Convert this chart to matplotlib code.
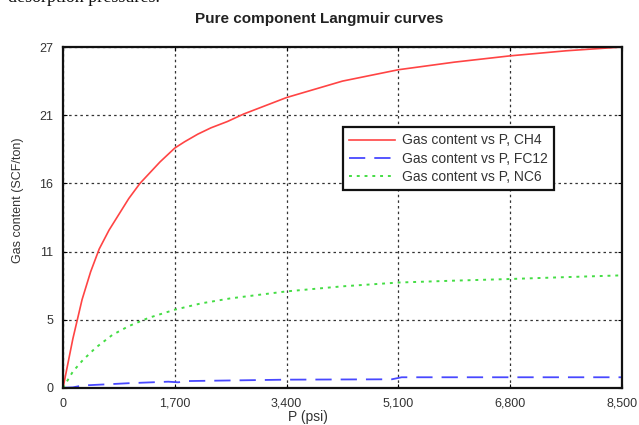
import matplotlib
matplotlib.use("Agg")
import matplotlib.pyplot as plt

# ---- data ----
p_ch4 = [0, 150, 290, 420, 550, 700, 820, 1000, 1170, 1475, 1700, 1850, 2050,
         2250, 2500, 2750, 3000, 3400, 4250, 5100, 5950, 6800, 7650, 8500]
v_ch4 = [0, 3.9, 7.0, 9.2, 11.0, 12.5, 13.5, 15.0, 16.2, 17.9, 19.0, 19.5, 20.1,
         20.6, 21.1, 21.7, 22.2, 23.0, 24.3, 25.2, 25.8, 26.3, 26.7, 27.0]

p_fc12 = [0, 150, 300, 700, 1000, 1600, 1750, 1900, 3400, 5000, 5150, 8500]
v_fc12 = [0.02, 0.05, 0.2, 0.3, 0.38, 0.5, 0.45, 0.55, 0.66, 0.69, 0.85, 0.85]

p_nc6 = [0, 150, 300, 500, 750, 1000, 1300, 1700, 2100, 2550, 3400, 4250,
         5100, 5950, 6800, 7650, 8500]
v_nc6 = [0, 1.3, 2.2, 3.2, 4.2, 4.9, 5.55, 6.2, 6.7, 7.1, 7.65, 8.05,
         8.35, 8.5, 8.63, 8.78, 8.92]

labels = ["Gas content vs P, CH4", "Gas content vs P, FC12", "Gas content vs P, NC6"]
x_ticks = [0, 1700, 3400, 5100, 6800, 8500]
x_ticklabels = ["0", "1,700", "3,400", "5,100", "6,800", "8,500"]
y_ticks = [0, 5.4, 10.8, 16.2, 21.6, 27]
y_ticklabels = ["0", "5", "11", "16", "21", "27"]

plt.rcParams['font.family'] = ['Liberation Sans', 'DejaVu Sans']

fig = plt.figure(figsize=(6.39, 4.25), dpi=100)
ax = fig.add_axes([63/639, 1-388/425, (622-63)/639, (388-47)/425])

ax.plot(p_ch4, v_ch4, color='#ff4444', lw=1.2, label=labels[0])
ax.plot(p_fc12, v_fc12, color='#4848ff', lw=1.3, dashes=(9, 5), label=labels[1])
ax.plot(p_nc6, v_nc6, color='#44dd44', lw=1.4, dashes=(1.5, 2.5), label=labels[2])

ax.set_xlim(0, 8500)
ax.set_ylim(0, 27)
ax.set_xticks(x_ticks)
ax.set_xticklabels(x_ticklabels)
ax.set_yticks(y_ticks)
ax.set_yticklabels(y_ticklabels)
ax.tick_params(direction='in', top=True, right=True, length=3, width=0.8,
               labelsize=9, labelcolor='#333333')
ax.tick_params(axis='x', pad=7)
ax.tick_params(axis='y', pad=7)
ax.grid(True, color='#333333', lw=0.9, dashes=(2, 2.5))
for s in ax.spines.values():
    s.set_linewidth(1.6)
    s.set_color('#111111')

ax.set_xlabel("P (psi)", fontsize=10, color='#333333')
ax.xaxis.set_label_coords((308-63)/559, -(410-388)/341)
ax.set_ylabel("Gas content (SCF/ton)", fontsize=9, color='#333333')
ax.yaxis.set_label_coords(-(63-24)/559, (388-200)/341)
fig.text(0.5, 1-19/425, "Pure component Langmuir curves", ha='center', va='center',
         fontsize=11, fontweight='bold', color='#222222')

leg = ax.legend(loc='upper left', bbox_to_anchor=(0.50, 0.765), fontsize=10,
                frameon=True, fancybox=False, framealpha=1, edgecolor='#111111',
                borderpad=0.45, labelspacing=0.3, handlelength=3.3,
                handletextpad=0.5, borderaxespad=0)
leg.get_frame().set_linewidth(1.6)
for t in leg.get_texts():
    t.set_color('#333333')

fig.text(160/639, 1-2/425, "desorption pressures.", ha='right', va='baseline',
         fontsize=13, family='Liberation Serif', color='#111111')

fig.savefig("out.png", dpi=100)
